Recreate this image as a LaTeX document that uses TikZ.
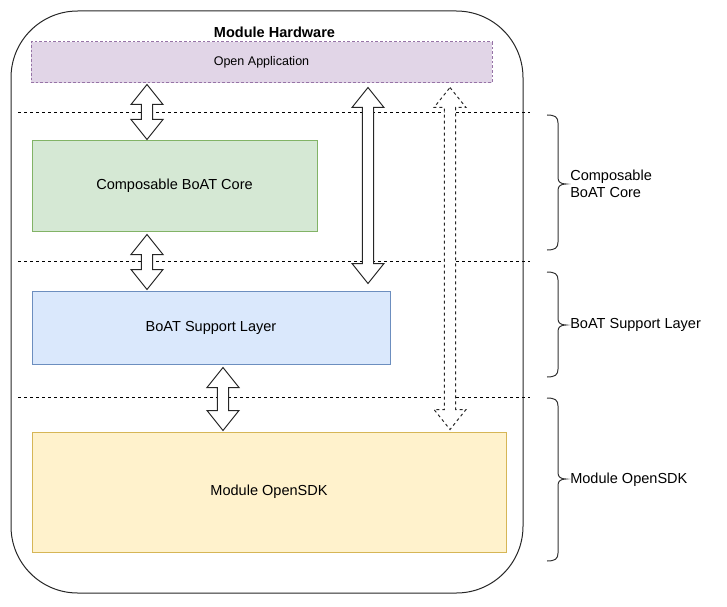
\documentclass[tikz,border=0pt]{standalone}
\usepackage{fontspec}
\setmainfont{Liberation Sans}
\usetikzlibrary{calc}
\definecolor{appfill}{HTML}{E1D5E7}\definecolor{appline}{HTML}{9673A6}
\definecolor{corefill}{HTML}{D5E8D4}\definecolor{coreline}{HTML}{82B366}
\definecolor{bslfill}{HTML}{DAE8FC}\definecolor{bslline}{HTML}{6C8EBF}
\definecolor{sdkfill}{HTML}{FFF2CC}\definecolor{sdkline}{HTML}{D6B656}
% block double arrow between two points (#2 upper, #3 lower)
\newcommand\blockdbl[3]{%
  \draw[#1] let \p1=#2, \p2=#3 in
    (\x1,\y1) -- (\x1+12pt,\y1-15pt) -- (\x1+4.2pt,\y1-15pt) -- (\x1+4.2pt,\y2+15pt)
    -- (\x1+12pt,\y2+15pt) -- (\x1,\y2) -- (\x1-12pt,\y2+15pt) -- (\x1-4.2pt,\y2+15pt)
    -- (\x1-4.2pt,\y1-15pt) -- (\x1-12pt,\y1-15pt) -- cycle;}
% curly bracket: #1 top y, #2 middle y, #3 bottom y
\newcommand\curlybr[3]{%
  \draw[brace] (547,#1) .. controls (555,#1) and (558,#1+2) .. (558,#1+8)
    -- (558,#2-6) .. controls (558,#2-2) and (561,#2) .. (566,#2)
    .. controls (561,#2) and (558,#2+2) .. (558,#2+6)
    -- (558,#3-8) .. controls (558,#3-2) and (555,#3) .. (547,#3);}
\begin{document}
\begin{tikzpicture}[x=0.75pt,y=-0.75pt,
  font=\fontsize{10.9}{13}\selectfont,
  lw/.style={line width=0.75pt},
  layerbox/.style={lw, inner sep=0pt, text=black},
  sepline/.style={lw, dash pattern=on 2.25pt off 2.25pt},
  blk/.style={lw, fill=white, draw=black!85},
  blkdot/.style={blk, dash pattern=on 2.25pt off 2.25pt},
  brace/.style={lw, draw=black!80},
  side/.style={anchor=west, align=left, inner sep=0pt}]
\useasboundingbox (0,0) rectangle (727,606);
% outer module hardware frame
\draw[lw, draw=black!85, rounded corners=50pt] (11,11) rectangle (523,593);
\node[font=\fontsize{10.9}{13}\selectfont\bfseries] (hwtitle) at (274.5,32) {Module Hardware};
% layer boxes
\node[layerbox, minimum width=345.75pt, minimum height=30.75pt, fill=appfill, draw=appline,
  dash pattern=on 2pt off 1.5pt, font=\fontsize{9.4}{11}\selectfont] (app) at (261.5,62.5) {Open Application};
\node[layerbox, minimum width=213.75pt, minimum height=67.5pt, fill=corefill, draw=coreline] (core) at (174.5,186) {Composable BoAT Core};
\node[layerbox, minimum width=268.5pt, minimum height=54.75pt, fill=bslfill, draw=bslline] (bsl) at (211,327.5) {BoAT Support Layer};
\node[layerbox, minimum width=355.5pt, minimum height=90pt, fill=sdkfill, draw=sdkline] (sdk) at (269,492) {Module OpenSDK};
% separator lines
\coordinate (s1l) at (18,113); \coordinate (s1r) at (530,113);
\coordinate (s2l) at (18,261); \coordinate (s2r) at (530,261);
\coordinate (s3l) at (18,397); \coordinate (s3r) at (530,397);
\draw[sepline] (s1l) -- (s1r);
\draw[sepline] (s2l) -- (s2r);
\draw[sepline] (s3l) -- (s3r);
% arrow columns
\coordinate (xa) at (147,0);
\coordinate (xb) at (223,0);
\coordinate (xc) at (368,0);
\coordinate (xd) at (450,0);
\blockdbl{blk}{($(xa |- app.south)+(0,1)$)}{($(xa |- core.north)+(0,-1)$)}
\blockdbl{blk}{($(xa |- core.south)+(0,3)$)}{($(xa |- bsl.north)+(0,-1)$)}
\blockdbl{blk}{($(xb |- bsl.south)+(0,3)$)}{($(xb |- sdk.north)+(0,-1)$)}
\blockdbl{blk}{($(xc |- app.south)+(0,4)$)}{($(xc |- bsl.north)+(0,-7)$)}
\blockdbl{blkdot}{($(xd |- app.south)+(0,4)$)}{($(xd |- sdk.north)+(0,-2)$)}
% side brackets and labels
\curlybr{115}{184}{250}
\curlybr{272}{325}{377}
\curlybr{398}{479}{561}
\node[side] (lcore) at (570,184) {Composable\\[0pt]BoAT Core};
\node[side] (lbsl) at (570,325) {BoAT Support Layer};
\node[side] (lsdk) at (570,480) {Module OpenSDK};
\end{tikzpicture}
\end{document}
